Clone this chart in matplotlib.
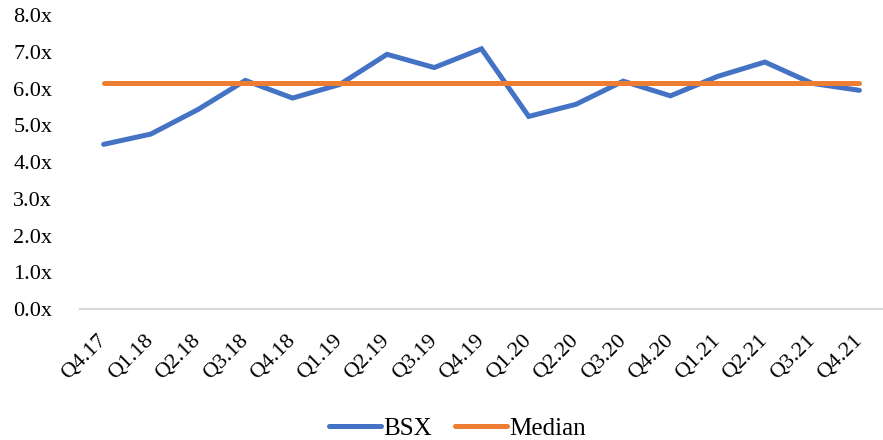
import numpy as np
import matplotlib.pyplot as plt
from matplotlib.transforms import ScaledTranslation

quarters = ['Q4.17', 'Q1.18', 'Q2.18', 'Q3.18', 'Q4.18', 'Q1.19', 'Q2.19', 'Q3.19',
            'Q4.19', 'Q1.20', 'Q2.20', 'Q3.20', 'Q4.20', 'Q1.21', 'Q2.21', 'Q3.21', 'Q4.21']
bsx = [4.48, 4.76, 5.43, 6.22, 5.74, 6.11, 6.93, 6.57,
       7.08, 5.24, 5.57, 6.20, 5.80, 6.33, 6.72, 6.14, 5.95]
median = [6.14] * len(quarters)

plt.rcParams['font.family'] = ['Liberation Serif', 'DejaVu Serif']

fig = plt.figure(figsize=(8.83, 4.4), dpi=100)
ax = fig.add_axes([80/883, 131/440, 803/883, 294/440])

x = np.arange(len(quarters))
ax.plot(x, bsx, color='#4472C4', lw=3.6, solid_capstyle='round', solid_joinstyle='miter', label='BSX')
ax.plot(x, median, color='#ED7D31', lw=3.6, solid_capstyle='round', label='Median')

ax.set_xlim(-0.5, len(quarters) - 0.5)
ax.set_ylim(0, 8)
ax.set_yticks(np.arange(0, 9, 1))
ax.set_yticklabels([f'{v:.1f}x' for v in range(9)], fontsize=16)
ax.set_xticks(x)
ax.set_xticklabels(quarters, fontsize=16, rotation=45, ha='right', va='center', rotation_mode='anchor')
shift = ScaledTranslation(-6/100, 0, fig.dpi_scale_trans)
for lbl in ax.get_xticklabels():
    lbl.set_transform(lbl.get_transform() + shift)

for s in ['top', 'right', 'left']:
    ax.spines[s].set_visible(False)
ax.spines['bottom'].set_color('#D9D9D9')
ax.spines['bottom'].set_linewidth(1.5)
ax.tick_params(length=0)
ax.tick_params(axis='y', pad=20)
ax.tick_params(axis='x', pad=21)

fig.legend(loc='lower center', bbox_to_anchor=(0.518, -0.05), ncol=2, frameon=False,
           fontsize=18, handlelength=2.1, handletextpad=0.1, columnspacing=0.9)

fig.savefig('out.png', dpi=100)
